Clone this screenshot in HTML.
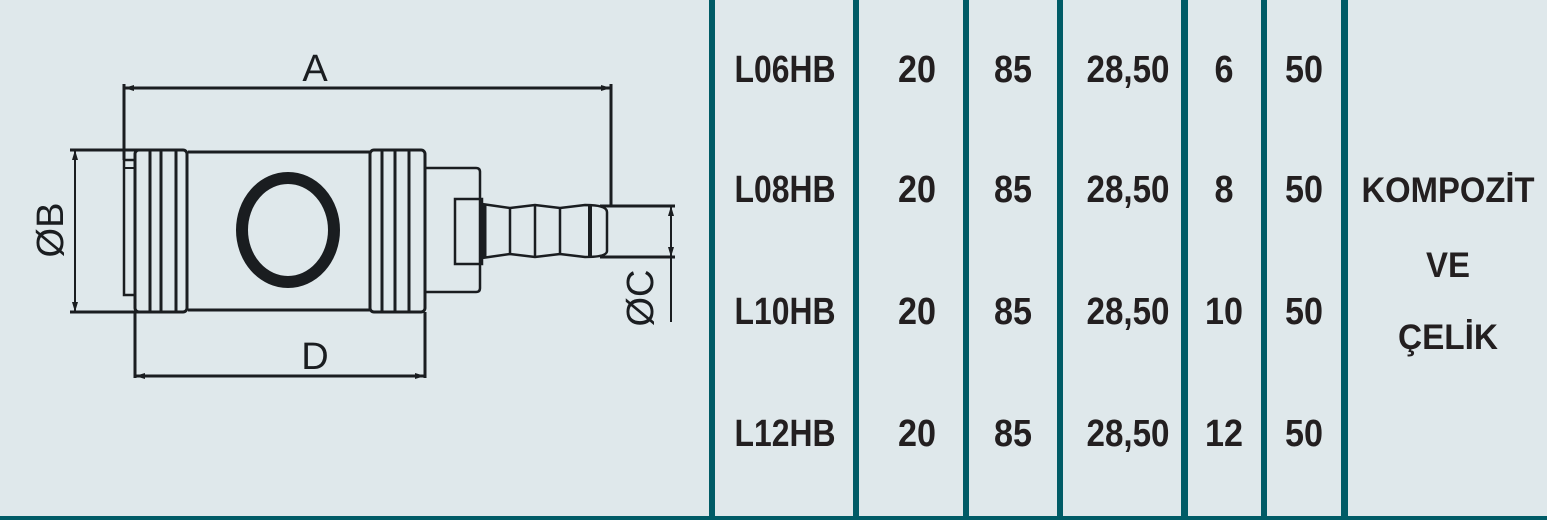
<!DOCTYPE html>
<html><head><meta charset="utf-8"><style>
html,body{margin:0;padding:0;background:#dfe8eb;}
svg{display:block}
</style></head><body>
<svg width="1547" height="520" viewBox="0 0 1547 520" xmlns="http://www.w3.org/2000/svg">
<rect width="1547" height="520" fill="#dfe8eb"/>
<g fill="#005b66">
<rect x="709" y="0" width="6" height="520"/>
<rect x="853" y="0" width="6" height="520"/>
<rect x="963" y="0" width="6" height="520"/>
<rect x="1057" y="0" width="6" height="520"/>
<rect x="1181" y="0" width="7" height="520"/>
<rect x="1261" y="0" width="6" height="520"/>
<rect x="1341" y="0" width="7" height="520"/>
<rect x="0" y="516" width="1547" height="4"/>
</g>
<g font-family="Liberation Sans, sans-serif" font-weight="bold" font-size="38" fill="#231f20" text-anchor="middle" lengthAdjust="spacingAndGlyphs">
<text x="785" y="82" textLength="101" lengthAdjust="spacingAndGlyphs">L06HB</text>
<text x="785" y="202" textLength="101" lengthAdjust="spacingAndGlyphs">L08HB</text>
<text x="785" y="324" textLength="101" lengthAdjust="spacingAndGlyphs">L10HB</text>
<text x="785" y="446" textLength="101" lengthAdjust="spacingAndGlyphs">L12HB</text>
<text x="917" y="82" textLength="38" lengthAdjust="spacingAndGlyphs">20</text><text x="917" y="202" textLength="38" lengthAdjust="spacingAndGlyphs">20</text><text x="917" y="324" textLength="38" lengthAdjust="spacingAndGlyphs">20</text><text x="917" y="446" textLength="38" lengthAdjust="spacingAndGlyphs">20</text>
<text x="1013" y="82" textLength="38" lengthAdjust="spacingAndGlyphs">85</text><text x="1013" y="202" textLength="38" lengthAdjust="spacingAndGlyphs">85</text><text x="1013" y="324" textLength="38" lengthAdjust="spacingAndGlyphs">85</text><text x="1013" y="446" textLength="38" lengthAdjust="spacingAndGlyphs">85</text>
<text x="1128" y="82" textLength="83" lengthAdjust="spacingAndGlyphs">28,50</text><text x="1128" y="202" textLength="83" lengthAdjust="spacingAndGlyphs">28,50</text><text x="1128" y="324" textLength="83" lengthAdjust="spacingAndGlyphs">28,50</text><text x="1128" y="446" textLength="83" lengthAdjust="spacingAndGlyphs">28,50</text>
<text x="1224" y="82" textLength="19" lengthAdjust="spacingAndGlyphs">6</text><text x="1224" y="202" textLength="19" lengthAdjust="spacingAndGlyphs">8</text><text x="1224" y="324" textLength="38" lengthAdjust="spacingAndGlyphs">10</text><text x="1224" y="446" textLength="38" lengthAdjust="spacingAndGlyphs">12</text>
<text x="1304" y="82" textLength="38" lengthAdjust="spacingAndGlyphs">50</text><text x="1304" y="202" textLength="38" lengthAdjust="spacingAndGlyphs">50</text><text x="1304" y="324" textLength="38" lengthAdjust="spacingAndGlyphs">50</text><text x="1304" y="446" textLength="38" lengthAdjust="spacingAndGlyphs">50</text>
<text x="1448" y="202" font-size="35" textLength="173" lengthAdjust="spacingAndGlyphs">KOMPOZİT</text>
<text x="1448" y="277" font-size="35" textLength="44" lengthAdjust="spacingAndGlyphs">VE</text>
<text x="1448" y="349" font-size="35" textLength="100" lengthAdjust="spacingAndGlyphs">ÇELİK</text>
</g>
<g stroke="#1a1d20" fill="none" stroke-width="3">
<line x1="124" y1="88" x2="611" y2="88"/>
<line x1="124" y1="84" x2="124" y2="160"/>
<line x1="611" y1="84" x2="611" y2="206"/>
<line x1="70" y1="150" x2="140" y2="150"/>
<line x1="70" y1="312" x2="140" y2="312"/>
<line x1="75" y1="150" x2="75" y2="312" stroke-width="2"/>
<line x1="135" y1="376" x2="425" y2="376"/>
<line x1="135" y1="312" x2="135" y2="378"/>
<line x1="425" y1="312" x2="425" y2="378"/>
<line x1="600" y1="206" x2="675" y2="206"/>
<line x1="600" y1="257" x2="675" y2="257"/>
<line x1="671" y1="206" x2="671" y2="322" stroke-width="2"/>
<rect x="124" y="160" width="11" height="135" stroke-width="2.5"/>
<line x1="124" y1="168" x2="135" y2="168" stroke-width="2"/>
<line x1="188" y1="152" x2="370" y2="152"/>
<line x1="188" y1="310" x2="370" y2="310"/>
<rect x="135" y="150" width="52" height="162" rx="4" stroke-width="3"/>
<line x1="150" y1="150" x2="150" y2="312" stroke-width="3"/>
<line x1="161" y1="150" x2="161" y2="312" stroke-width="3"/>
<line x1="176" y1="150" x2="176" y2="312" stroke-width="3"/>
<rect x="370" y="150" width="55" height="162" rx="4" stroke-width="3"/>
<line x1="382" y1="150" x2="382" y2="312" stroke-width="3"/>
<line x1="395" y1="150" x2="395" y2="312" stroke-width="3"/>
<line x1="409" y1="150" x2="409" y2="312" stroke-width="3"/>
<ellipse cx="288" cy="230" rx="46" ry="52" stroke-width="12"/>
<path d="M425 168 H476 Q480 168 480 172 V288 Q480 292 476 292 H425" stroke-width="2.5"/>
<rect x="455" y="199" width="27" height="65" stroke-width="2.5"/>
<path d="M482 204 L510 208 L535 205 L560 208 L585 205 Q607 205 607 212 V251 Q607 257 585 257 L560 254 L535 257 L510 254 L482 258" stroke-width="2.5"/>
<line x1="484" y1="204" x2="484" y2="258" stroke-width="5"/>
<line x1="510" y1="208" x2="510" y2="254" stroke-width="2.5"/>
<line x1="535" y1="205" x2="535" y2="257" stroke-width="2.5"/>
<line x1="560" y1="208" x2="560" y2="254" stroke-width="2.5"/>
<line x1="590" y1="205" x2="590" y2="257" stroke-width="4"/>
</g>
<g fill="#1a1d20">
<path d="M124 88 l10 -3 v6z M611 88 l-10 -3 v6z"/>
<path d="M135 376 l10 -3 v6z M425 376 l-10 -3 v6z"/>
<path d="M75 150 l-3 10 h6z M75 312 l-3 -10 h6z"/>
<path d="M671 206 l-3 10 h6z M671 257 l-3 -10 h6z"/>
</g>
<g font-family="Liberation Sans, DejaVu Sans, sans-serif" font-size="38" fill="#1a1d20" text-anchor="middle">
<text x="315" y="81">A</text>
<text x="315" y="369">D</text>
<text transform="translate(63,230) rotate(-90)">ØB</text>
<text transform="translate(653,298) rotate(-90)">ØC</text>
</g>
</svg>
</body></html>
